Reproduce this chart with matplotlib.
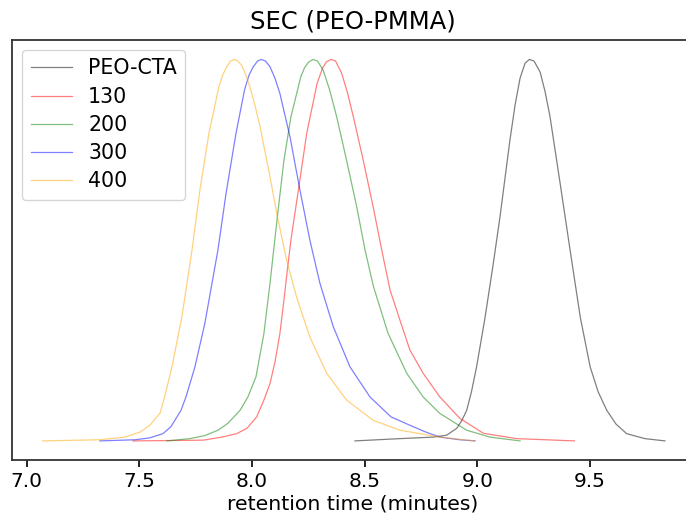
import numpy as np
import matplotlib
matplotlib.use('Agg')
import matplotlib.pyplot as plt

# values (retention time, normalised signal)
labels = ['PEO-CTA', '130', '200', '300', '400']
colors = ['k', 'r', 'g', 'b', 'orange']

t_cta = [8.457, 8.657, 8.805, 8.864, 8.909, 8.932, 8.953, 8.974, 8.997, 9.034, 9.070,
         9.101, 9.145, 9.168, 9.190, 9.212, 9.231, 9.252, 9.279, 9.301, 9.323, 9.368,
         9.412, 9.457, 9.501, 9.537, 9.575, 9.616, 9.663, 9.744, 9.833]
s_cta = [0.0, 0.006, 0.010, 0.015, 0.033, 0.054, 0.080, 0.128, 0.194, 0.321, 0.460,
         0.587, 0.788, 0.880, 0.950, 0.989, 0.999, 0.995, 0.966, 0.915, 0.849, 0.674,
         0.500, 0.325, 0.194, 0.128, 0.080, 0.044, 0.019, 0.006, 0.0]

t_130 = [7.472, 7.636, 7.784, 7.867, 7.932, 7.978, 8.021, 8.053, 8.080, 8.102, 8.124,
         8.142, 8.158, 8.173, 8.206, 8.243, 8.289, 8.313, 8.331, 8.351, 8.371, 8.398,
         8.424, 8.450, 8.494, 8.538, 8.576, 8.613, 8.657, 8.701, 8.760, 8.834, 8.923,
         9.027, 9.175, 9.431]
s_130 = [0.0, 0.001, 0.002, 0.010, 0.019, 0.033, 0.063, 0.107, 0.150, 0.206, 0.281,
         0.369, 0.452, 0.526, 0.657, 0.805, 0.936, 0.976, 0.993, 0.999, 0.995, 0.963,
         0.912, 0.849, 0.735, 0.613, 0.500, 0.395, 0.316, 0.238, 0.177, 0.115, 0.059,
         0.020, 0.006, 0.0]

t_200 = [7.623, 7.725, 7.791, 7.849, 7.893, 7.947, 7.982, 8.018, 8.053, 8.080, 8.111,
         8.142, 8.173, 8.217, 8.234, 8.251, 8.271, 8.291, 8.316, 8.345, 8.376, 8.420,
         8.465, 8.502, 8.539, 8.604, 8.687, 8.760, 8.834, 8.953, 9.056, 9.190]
s_200 = [0.0, 0.006, 0.014, 0.028, 0.046, 0.080, 0.115, 0.168, 0.281, 0.412, 0.578,
         0.735, 0.849, 0.954, 0.978, 0.992, 0.999, 0.995, 0.971, 0.919, 0.849, 0.735,
         0.613, 0.500, 0.405, 0.282, 0.177, 0.115, 0.072, 0.028, 0.010, 0.0]

t_300 = [7.325, 7.481, 7.547, 7.605, 7.640, 7.685, 7.707, 7.747, 7.791, 7.849, 7.885,
         7.929, 7.967, 7.987, 8.006, 8.025, 8.041, 8.060, 8.080, 8.102, 8.124, 8.169,
         8.213, 8.257, 8.302, 8.361, 8.435, 8.524, 8.617, 8.701, 8.768, 8.834, 8.923,
         8.990]
s_300 = [0.0, 0.003, 0.008, 0.019, 0.037, 0.080, 0.115, 0.194, 0.308, 0.500, 0.648,
         0.805, 0.919, 0.958, 0.980, 0.995, 0.999, 0.995, 0.980, 0.950, 0.910, 0.796,
         0.657, 0.526, 0.412, 0.299, 0.194, 0.115, 0.063, 0.041, 0.024, 0.010, 0.003,
         0.0]

t_400 = [7.071, 7.325, 7.436, 7.503, 7.547, 7.592, 7.609, 7.645, 7.689, 7.734, 7.769,
         7.809, 7.853, 7.870, 7.888, 7.905, 7.920, 7.935, 7.954, 7.972, 7.991, 8.013,
         8.036, 8.080, 8.110, 8.154, 8.198, 8.257, 8.332, 8.420, 8.538, 8.657, 8.746,
         8.834, 8.923, 8.990]
s_400 = [0.0, 0.003, 0.010, 0.023, 0.041, 0.073, 0.107, 0.194, 0.325, 0.500, 0.657,
         0.805, 0.927, 0.958, 0.980, 0.995, 0.999, 0.996, 0.984, 0.960, 0.927, 0.880,
         0.823, 0.692, 0.596, 0.473, 0.377, 0.272, 0.177, 0.107, 0.054, 0.028, 0.019,
         0.010, 0.004, 0.0]

times = [t_cta, t_130, t_200, t_300, t_400]
signals = [s_cta, s_130, s_200, s_300, s_400]

fig = plt.figure(figsize=(6.86, 5.21), dpi=100)
ax = fig.add_axes([12/686, 61/521, 682/686, 420/521])

for t, s, c, lab in zip(times, signals, colors, labels):
    ax.plot(t, s, color=c, alpha=0.5, linewidth=0.9, label=lab)

ax.set_xlim(6.935, 9.962)
ax.set_ylim(-0.05, 1.05)
ax.set_yticks([])
ax.set_xticks([7.0, 7.5, 8.0, 8.5, 9.0, 9.5])
ax.tick_params(axis='x', labelsize=14.5, length=5, width=1.2)
for sp in ax.spines.values():
    sp.set_linewidth(1.3)
    sp.set_color('#333333')

ax.set_title('SEC (PEO-PMMA)', fontsize=17.5, pad=8)
ax.set_xlabel('retention time (minutes)', fontsize=14.7, labelpad=3)
ax.legend(loc='upper left', fontsize=14.8, labelspacing=0.4, borderaxespad=0.5)

fig.savefig('out.png', dpi=100)
